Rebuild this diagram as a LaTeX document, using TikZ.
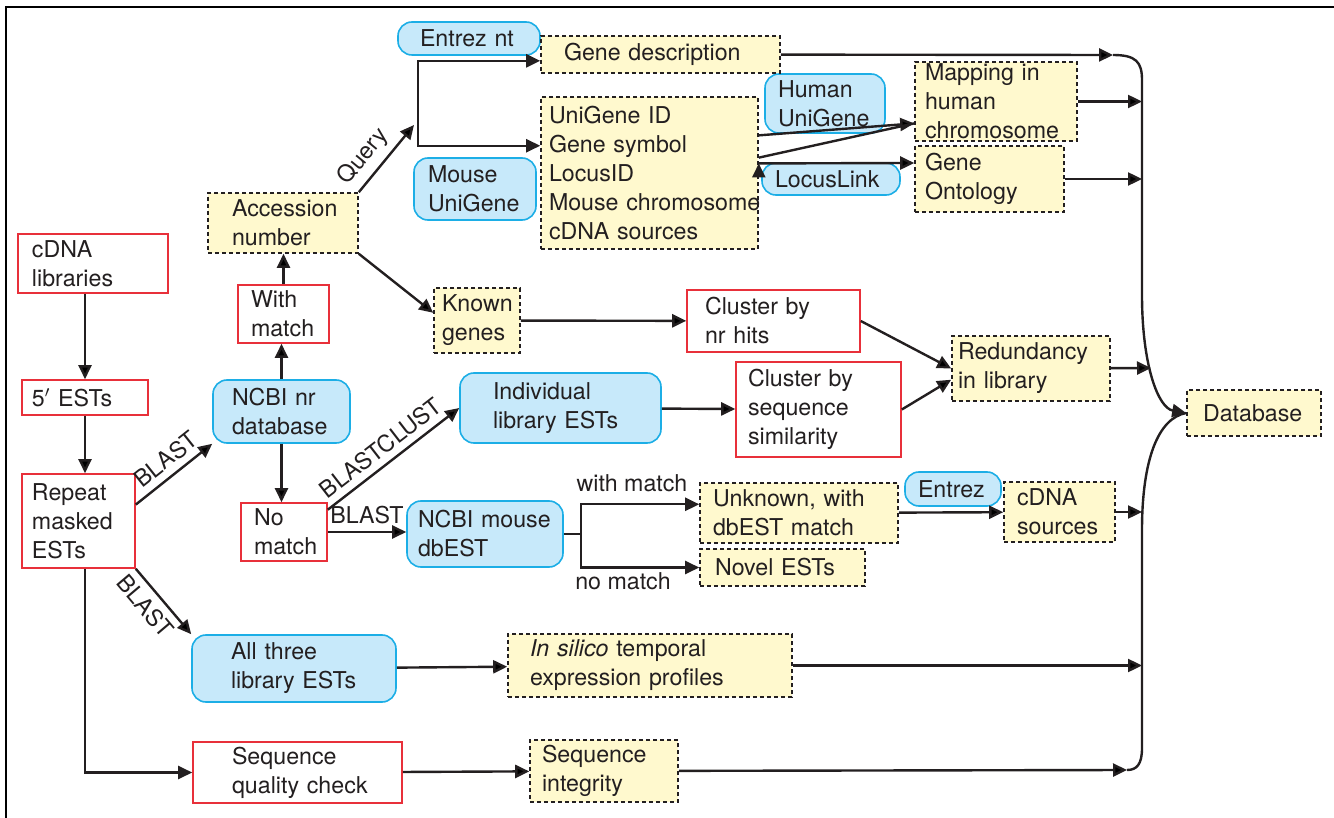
\documentclass[tikz,border=0pt]{standalone}
\usepackage{fontspec}
\setmainfont{TeX Gyre Heros}
\usetikzlibrary{arrows.meta}

\definecolor{boxred}{RGB}{232,48,58}
\definecolor{dbfill}{RGB}{199,233,250}
\definecolor{dbline}{RGB}{28,174,230}
\definecolor{notefill}{RGB}{255,249,206}
\definecolor{ink}{RGB}{35,31,32}

\begin{document}
\begin{tikzpicture}[
  x=0.5pt,
  y=-0.5pt,
  font=\fontsize{11.6}{14.5}\selectfont,
  text=ink,
  panel/.style={
    align=left,
    inner ysep=0pt,
    line width=0.8pt,
    execute at begin node={\hyphenpenalty=10000\exhyphenpenalty=10000}
  },
  redbox/.style={panel,draw=boxred,fill=white},
  dbbox/.style={panel,draw=dbline,fill=dbfill,rounded corners=7pt},
  notebox/.style={panel,draw=ink,fill=notefill,dash pattern=on 2pt off 1.5pt},
  link/.style={line width=1.2pt,draw=ink},
  flow/.style={link,-{Triangle[length=7pt,width=6.5pt]}},
  twoway/.style={link,{Triangle[length=7pt,width=6.5pt]}-{Triangle[length=7pt,width=6.5pt]}}
]
  \useasboundingbox (0,0) rectangle (1334,818);
  \draw[line width=1pt] (6,818) -- (6,7) -- (1334,7);

  \node[redbox,text width=61pt,inner xsep=7pt,minimum height=29.5pt] (cdna) at (93,263.5) {cDNA\\libraries};
  \node[redbox,text width=53pt,inner xsep=5pt,minimum height=17.5pt] (ests) at (85,397.5) {5$'$~ESTs};
  \node[redbox,text width=46.5pt,inner xsep=5pt,minimum height=47pt] (repeat) at (78.5,521) {Repeat\\masked\\ESTs};
  \node[redbox,text width=32.5pt,inner xsep=6.5pt,minimum height=29pt] (withm) at (283.5,314) {With\\match};
  \node[redbox,text width=30pt,inner xsep=6.5pt,minimum height=29pt] (nom) at (284,532) {No\\match};
  \node[redbox,text width=68.5pt,inner xsep=9pt,minimum height=31pt] (nrclu) at (773.5,321) {Cluster~by\\nr~hits};
  \node[redbox,text width=70.5pt,inner xsep=6pt,minimum height=47.5pt] (seqclu) at (818.5,409.5) {Cluster~by\\sequence\\similarity};
  \node[redbox,text width=65.5pt,inner xsep=19.5pt,minimum height=30.5pt] (qcheck) at (297.5,772.5) {Sequence\\quality~check};

  \node[dbbox,text width=49pt,inner xsep=11pt,minimum height=16.5pt] (entreznt) at (469,38.5) {Entrez~nt};
  \node[dbbox,text width=47pt,inner xsep=7pt,minimum height=31pt] (mug) at (475,189) {Mouse\\UniGene};
  \node[dbbox,text width=47pt,inner xsep=6.5pt,minimum height=29.5pt] (hug) at (825,103.5) {Human\\UniGene};
  \node[dbbox,text width=56pt,inner xsep=6.5pt,minimum height=16pt] (locus) at (831,179) {LocusLink};
  \node[dbbox,text width=49.5pt,inner xsep=9.5pt,minimum height=31.5pt] (nr) at (281.5,411.5) {NCBI~nr\\database};
  \node[dbbox,text width=67.5pt,inner xsep=16.5pt,minimum height=35pt] (indiv) at (560.5,408) {Individual\\library~ESTs};
  \node[dbbox,text width=67pt,inner xsep=5.5pt,minimum height=33pt] (dbest) at (485,534) {NCBI~mouse\\dbEST};
  \node[dbbox,text width=35pt,inner xsep=6.5pt,minimum height=17pt] (entrez) at (953,489) {Entrez};
  \node[dbbox,text width=63pt,inner xsep=19.5pt,minimum height=33.5pt] (allthree) at (294,668.5) {All~three\\library~ESTs};

  \node[notebox,text width=96.5pt,inner xsep=11.5pt,minimum height=18.5pt] (gdesc) at (660.5,54.5) {Gene~description};
  \node[notebox,text width=100.5pt,inner xsep=4pt,minimum height=76pt] (ugblock) at (649.5,173) {UniGene~ID\\Gene~symbol\\LocusID\\Mouse~chromosome\\cDNA~sources};
  \node[notebox,text width=71pt,inner xsep=5pt,minimum height=39.5pt] (mapping) at (996,101.5) {Mapping~in\\human\\chromosome};
  \node[notebox,text width=64.5pt,inner xsep=5pt,minimum height=33pt] (go) at (989.5,179) {Gene\\Ontology};
  \node[notebox,text width=51pt,inner xsep=12pt,minimum height=30pt] (acc) at (283,223) {Accession\\number};
  \node[notebox,text width=35pt,inner xsep=4pt,minimum height=32.5pt] (known) at (477,320.5) {Known\\genes};
  \node[notebox,text width=73pt,inner xsep=3pt,minimum height=32.5pt] (redund) at (1031,368.5) {Redundancy\\in~library};
  \node[notebox,text width=51pt,inner xsep=8pt,minimum height=23pt] (db) at (1254,413) {Database};
  \node[notebox,text width=86pt,inner xsep=6.5pt,minimum height=30pt] (unknown) at (799,513) {Unknown,~with\\dbEST~match};
  \node[notebox,text width=67.5pt,inner xsep=7.5pt,minimum height=18.5pt] (novel) at (782.5,567.5) {Novel~ESTs};
  \node[notebox,text width=42.5pt,inner xsep=6.5pt,minimum height=30pt] (cdnasrc) at (1059.5,512) {cDNA\\sources};
  \node[notebox,text width=120pt,inner xsep=11pt,minimum height=31.5pt] (insilico) at (650,665.5) {\textit{In~silico}~temporal\\expression~profiles};
  \node[notebox,text width=62pt,inner xsep=6pt,minimum height=31pt] (integ) at (604,771) {Sequence\\integrity};

  \node (withlbl) at (632,483) {with match};
  \node (nolbl) at (623,581) {no match};

  \coordinate (qtip) at (414,125);
  \coordinate (qbar) at (418,100);
  \coordinate (dbsplit) at (581,534);
  \coordinate (bustop) at (1113,55);
  \coordinate (busbot) at (1127,770);
  \coordinate (bus) at (1142,413);
  \coordinate (busr) at (1151,368);

  \path[flow]
    (cdna.south -| ests) edge (ests.north)
    (ests) edge (repeat.north -| ests)
    (repeat.16) edge node[sloped,above,pos=0.53]{BLAST} (nr.south west)
    (nr.north) edge (nr.north |- withm.south)
    (withm.north) edge (withm.north |- acc.south)
    (nr.south) edge (nr.south |- nom.north)
    (acc.north east) edge node[sloped,above,pos=0.35]{Query} (qtip)
    (acc.south east) edge (known.170)
    (known) edge (nrclu)
    (nrclu.east) edge (redund.west)
    (seqclu.east) edge (redund.188)
    (indiv) edge (seqclu)
    (nom.27) edge node[sloped,above,pos=0.48]{BLASTCLUST} (indiv.west)
    (nom.east) edge node[above]{BLAST} (nom.east -| dbest.west)
    (unknown) edge (cdnasrc)
    (repeat.south east) edge node[sloped,below,pos=0.4]{BLAST} (allthree.north west)
    (allthree) edge (insilico)
    (qcheck) edge (integ)
    (ugblock.19) edge (mapping.195)
    (ugblock.5) edge (go.168)
    (gdesc) edge (bustop)
    (mapping) edge (mapping -| bus)
    (go) edge (go -| bus)
    (redund) edge (busr)
    (cdnasrc) edge (cdnasrc -| bus)
    (insilico) edge (insilico -| bus)
    (integ) edge (busbot);

  \draw[link] (ugblock.8) -- (mapping.195);
  \draw[flow] (repeat.south -| ests) |- (qcheck.west);
  \draw[twoway] (gdesc.183) -| (qbar) |- (ugblock.166);
  \draw[link] (dbest.east) -- (dbsplit);
  \draw[twoway] (unknown.175) -| (dbsplit) |- (novel.west);

  \draw[flow] (bustop) .. controls (1136,55) and (1142,62) .. (1142,80)
    -- (1142,295) .. controls (1142,365) and (1158,408) .. (db.west);
  \draw[link] (busbot) .. controls (1137,770) and (1142,764) .. (1142,748)
    -- (1142,530) .. controls (1142,460) and (1158,418) .. (db.west);
\end{tikzpicture}
\end{document}
